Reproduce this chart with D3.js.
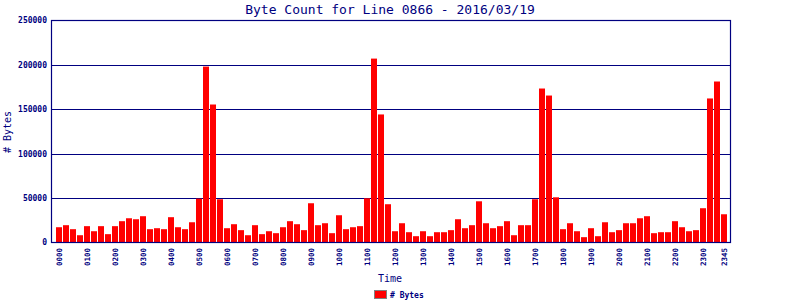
<!DOCTYPE html>
<html>
<head>
<meta charset="utf-8">
<script src="https://cdn.jsdelivr.net/npm/d3@7"></script>
<style>
  body { margin: 0; background: #fff; }
  svg { display: block; }
</style>
</head>
<body>
<svg width="800" height="300"></svg>
<script>
let width = 800, height = 300;

// 15 minute slots
const times = [
  "0000","0015","0030","0045","0100","0115","0130","0145","0200","0215","0230","0245",
  "0300","0315","0330","0345","0400","0415","0430","0445","0500","0515","0530","0545",
  "0600","0615","0630","0645","0700","0715","0730","0745","0800","0815","0830","0845",
  "0900","0915","0930","0945","1000","1015","1030","1045","1100","1115","1130","1145",
  "1200","1215","1230","1245","1300","1315","1330","1345","1400","1415","1430","1445",
  "1500","1515","1530","1545","1600","1615","1630","1645","1700","1715","1730","1745",
  "1800","1815","1830","1845","1900","1915","1930","1945","2000","2015","2030","2045",
  "2100","2115","2130","2145","2200","2215","2230","2245","2300","2315","2330","2345"
];

const bytes = [
  17200, 19500, 15000, 8200, 18400, 12700, 18400, 9400, 18400, 24000, 27300, 26200,
  29600, 15000, 16100, 15000, 28500, 17200, 15000, 22800, 49400, 198100, 155400, 48700,
  16100, 20600, 13900, 8200, 19500, 9400, 12700, 10500, 17200, 24000, 20600, 13900,
  44200, 19500, 21700, 10500, 30700, 15000, 17200, 18400, 49800, 207100, 144200, 43100,
  12700, 21700, 11600, 7100, 12700, 7100, 11600, 11600, 13900, 26200, 16100, 19500,
  46400, 21700, 16100, 18400, 24000, 8200, 19500, 19500, 48700, 173400, 165500, 50900,
  15000, 21700, 12700, 6000, 16100, 7100, 22800, 11600, 13900, 21700, 21700, 27300,
  29600, 10500, 11600, 11600, 24000, 17200, 12700, 13900, 38600, 162200, 181300, 31800
];

const xTicks = ["0000","0100","0200","0300","0400","0500","0600","0700","0800","0900",
  "1000","1100","1200","1300","1400","1500","1600","1700","1800","1900","2000","2100",
  "2200","2300","2345"];

const yTicks = [0, 50000, 100000, 150000, 200000, 250000];

const navy = "#000080";
const mono = "'DejaVu Sans Mono', monospace";

let plot = { left: 51.5, right: 730.5, top: 20.5, bottom: 242.5 };

let svg = d3.select("svg");

let x = d3.scaleBand()
    .domain(times)
    .range([55.5, 727.5])
    .paddingInner(1 / 7)
    .paddingOuter(1 / 14);

let y = d3.scaleLinear()
    .domain([0, 250000])
    .range([plot.bottom, plot.top]);

// grid lines (inner ones, the frame draws 0 and 250000)
svg.append("g")
    .selectAll("line")
    .data(yTicks.slice(1, -1))
    .enter()
    .append("line")
    .attr("x1", plot.left)
    .attr("x2", plot.right)
    .attr("y1", d => Math.round(y(d)) + 0.5)
    .attr("y2", d => Math.round(y(d)) + 0.5)
    .attr("stroke", navy)
    .attr("stroke-width", 1.2);

// bars
svg.append("g")
    .selectAll("rect")
    .data(bytes)
    .enter()
    .append("rect")
    .attr("x", (d, i) => x(times[i]))
    .attr("width", x.bandwidth())
    .attr("y", d => y(d))
    .attr("height", d => y(0) - y(d))
    .attr("fill", "#ff0000");

// frame
svg.append("rect")
    .attr("x", plot.left)
    .attr("y", plot.top)
    .attr("width", plot.right - plot.left)
    .attr("height", plot.bottom - plot.top)
    .attr("fill", "none")
    .attr("stroke", navy)
    .attr("stroke-width", 1.2);

// y tick labels
svg.append("g")
    .selectAll("text")
    .data(yTicks)
    .enter()
    .append("text")
    .attr("x", 47)
    .attr("y", d => y(d))
    .attr("dy", "0.35em")
    .attr("text-anchor", "end")
    .attr("font-family", mono)
    .attr("font-weight", "bold")
    .attr("font-size", 8)
    .attr("fill", navy)
    .text(d => d);

// x tick labels, rotated
svg.append("g")
    .selectAll("text")
    .data(xTicks)
    .enter()
    .append("text")
    .attr("transform", d => `translate(${x(d) + x.bandwidth() / 2},248) rotate(-90)`)
    .attr("dy", "0.35em")
    .attr("text-anchor", "end")
    .attr("font-family", mono)
    .attr("font-weight", "bold")
    .attr("font-size", 7.5)
    .attr("fill", navy)
    .text(d => d);

// title
svg.append("text")
    .attr("x", 390)
    .attr("y", 13.5)
    .attr("text-anchor", "middle")
    .attr("font-family", mono)
    .attr("font-size", 13)
    .attr("fill", navy)
    .text("Byte Count for Line 0866 - 2016/03/19");

// axis titles
svg.append("text")
    .attr("transform", "translate(11,132) rotate(-90)")
    .attr("text-anchor", "middle")
    .attr("font-family", mono)
    .attr("font-size", 10)
    .attr("fill", navy)
    .text("# Bytes");

svg.append("text")
    .attr("x", 390)
    .attr("y", 282)
    .attr("text-anchor", "middle")
    .attr("font-family", mono)
    .attr("font-size", 10)
    .attr("fill", navy)
    .text("Time");

// legend
let legend = svg.append("g");
legend.append("rect")
    .attr("x", 374.5)
    .attr("y", 290.5)
    .attr("width", 12)
    .attr("height", 8)
    .attr("fill", "#ff0000")
    .attr("stroke", "#808080")
    .attr("stroke-width", 1);
legend.append("text")
    .attr("x", 390)
    .attr("y", 298)
    .attr("font-family", mono)
    .attr("font-weight", "bold")
    .attr("font-size", 8)
    .attr("fill", navy)
    .text("# Bytes");
</script>
</body>
</html>
